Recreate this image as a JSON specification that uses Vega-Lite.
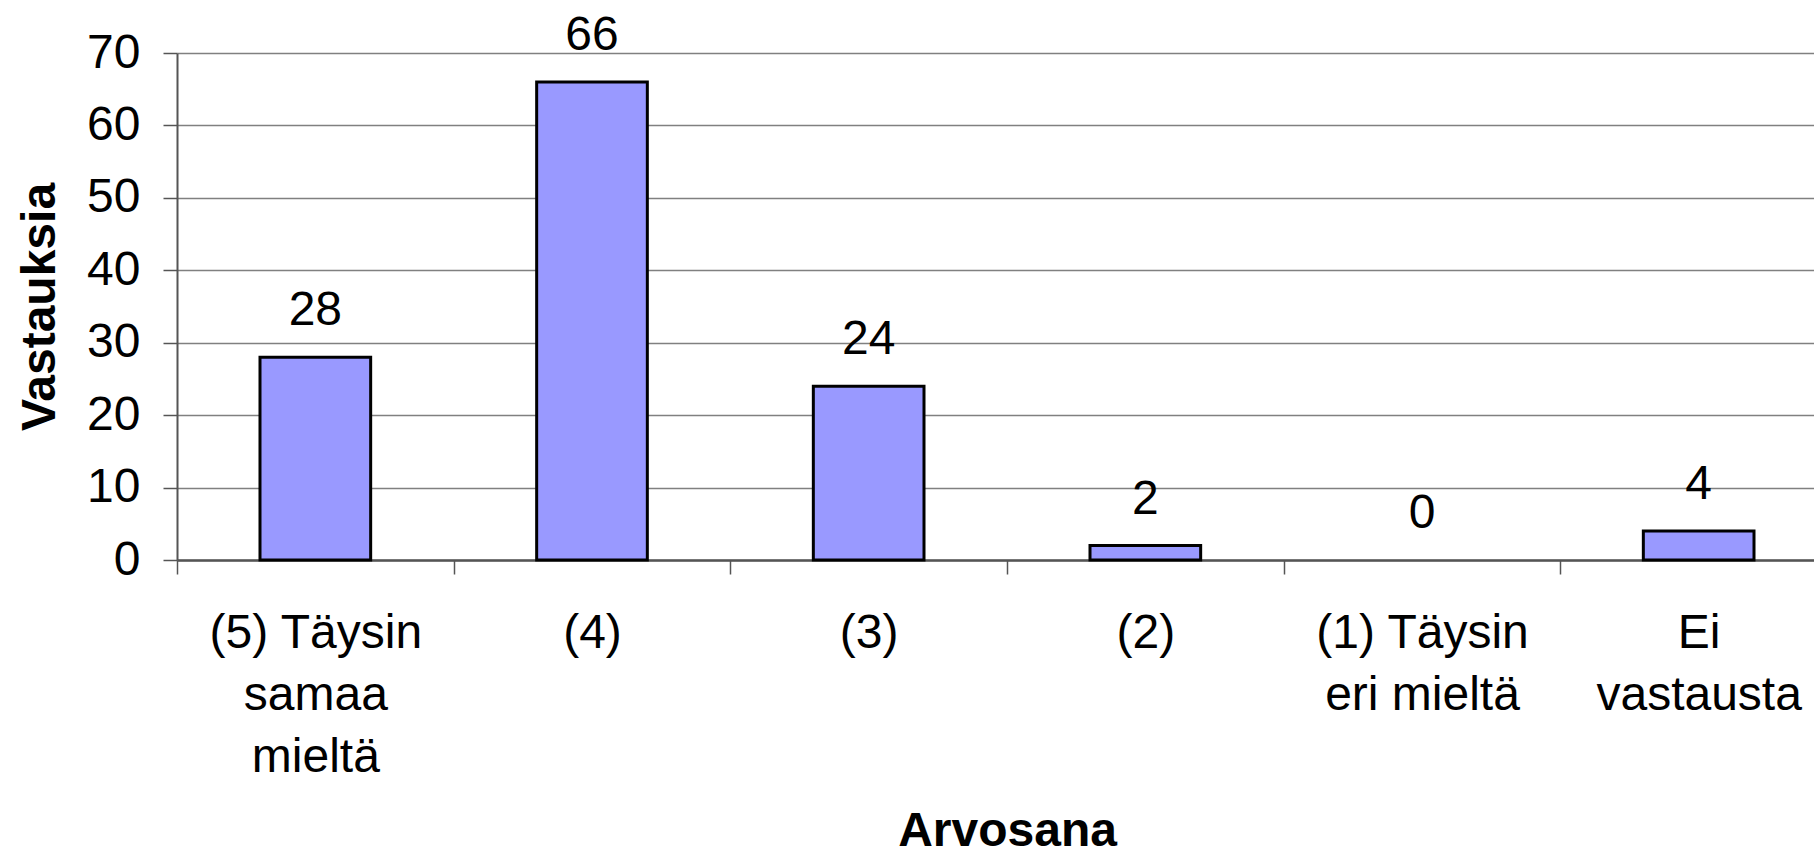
{
  "$schema": "https://vega.github.io/schema/vega-lite/v6.json",
  "autosize": {"type": "none"},
  "width": 1637,
  "height": 507,
  "padding": {"left": 177, "top": 53, "right": 0, "bottom": 297},
  "background": "white",
  "config": {"font": "Liberation Sans", "view": {"stroke": null}},
  "data": {
    "values": [
      {"label": "(5) Täysin|samaa|mieltä", "n": 28},
      {"label": "(4)", "n": 66},
      {"label": "(3)", "n": 24},
      {"label": "(2)", "n": 2},
      {"label": "(1) Täysin|eri mieltä", "n": 0},
      {"label": "Ei|vastausta", "n": 4}
    ]
  },
  "encoding": {
    "x": {
      "field": "label",
      "type": "nominal",
      "sort": ["(5) Täysin|samaa|mieltä", "(4)", "(3)", "(2)", "(1) Täysin|eri mieltä", "Ei|vastausta"],
      "scale": {"domain": ["(5) Täysin|samaa|mieltä", "(4)", "(3)", "(2)", "(1) Täysin|eri mieltä", "Ei|vastausta"], "range": [0, 1660], "paddingInner": 0, "paddingOuter": 0},
      "axis": {
        "title": "Arvosana",
        "titleFontSize": 48,
        "titleFontWeight": "bold",
        "titleColor": "black",
        "titleBaseline": "alphabetic",
        "titleY": 285,
        "labelExpr": "split(datum.label, '|')",
        "labelAngle": 0,
        "labelFontSize": 48,
        "labelLineHeight": 62,
        "labelPadding": 35,
        "labelColor": "black",
        "labelLimit": 600,
        "labelOverlap": false,
        "labelBound": false,
        "labelFlush": false,
        "tickSize": 14,
        "tickBand": "extent",
        "tickColor": "#555555",
        "tickWidth": 1.5,
        "domainColor": "#555555",
        "domainWidth": 2.5,
        "grid": false
      }
    },
    "y": {
      "field": "n",
      "type": "quantitative",
      "scale": {"domain": [0, 70]},
      "axis": {
        "values": [0, 10, 20, 30, 40, 50, 60, 70],
        "title": "Vastauksia",
        "titleFontSize": 48,
        "titleFontWeight": "bold",
        "titleColor": "black",
        "titleAngle": -90,
        "titleX": -123,
        "titleY": 253.5,
        "titleAlign": "center",
        "titleBaseline": "alphabetic",
        "labelFontSize": 48,
        "labelPadding": 23,
        "labelColor": "black",
        "tickSize": 14,
        "tickColor": "#555555",
        "tickWidth": 1.5,
        "domainColor": "#555555",
        "domainWidth": 2,
        "grid": true,
        "gridColor": "#808080",
        "gridWidth": 1.5
      }
    }
  },
  "layer": [
    {
      "transform": [{"filter": "datum.n > 0"}],
      "mark": {"type": "bar", "width": {"band": 0.4}, "fill": "#9999ff", "stroke": "black", "strokeWidth": 3}
    },
    {
      "mark": {"type": "text", "dy": -32, "baseline": "alphabetic", "fontSize": 48, "color": "black"},
      "encoding": {"text": {"field": "n", "type": "quantitative"}}
    }
  ]
}
